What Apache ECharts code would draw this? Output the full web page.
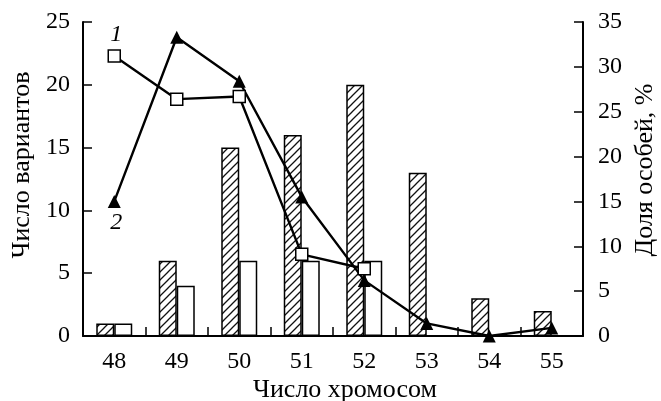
<!DOCTYPE html>
<html>
<head>
<meta charset="utf-8">
<script src="https://cdn.jsdelivr.net/npm/echarts@6/dist/echarts.min.js"></script>
<style>html,body{margin:0;padding:0;background:#fff}#c{width:661px;height:401px}</style>
</head>
<body>
<div id="c"></div>
<script>
const categories = ['48','49','50','51','52','53','54','55'];
const hatchedBars = [1, 6, 15, 16, 20, 13, 3, 2];
const whiteBars = [1, 4, 6, 6, 6, '-', '-', '-'];
const line1 = [31.2, 26.4, 26.7, 9.1, 7.5, '-', '-', '-'];
const line2 = [15, 33.3, 28.4, 15.5, 6.2, 1.4, 0, 0.9];
const leftTicks = [0, 25, 5];
const rightTicks = [0, 35, 5];

const FONT = 'Liberation Serif';

function hatch() {
  const s = 8;
  const c = document.createElement('canvas');
  c.width = s; c.height = s;
  const g = c.getContext('2d');
  g.fillStyle = '#fff'; g.fillRect(0, 0, s, s);
  g.strokeStyle = '#111'; g.lineWidth = 1.3;
  g.beginPath();
  g.moveTo(-1, s + 1); g.lineTo(s + 1, -1);
  g.moveTo(-1, 1); g.lineTo(1, -1);
  g.moveTo(s - 1, s + 1); g.lineTo(s + 1, s - 1);
  g.stroke();
  return c;
}

const chart = echarts.init(document.getElementById('c'), null, {renderer: 'canvas'});
const axisLine = {show: true, lineStyle: {color: '#000', width: 2}};
const tickStyle = {color: '#000', width: 1.5};
chart.setOption({
  animation: false,
  backgroundColor: '#fff',
  grid: {left: 83, right: 78, top: 22, bottom: 65, containLabel: false, outerBoundsMode: 'none'},
  xAxis: {
    type: 'category', data: categories,
    name: 'Число хромосом', nameLocation: 'middle', nameGap: 41, nameMoveOverlap: false,
    nameTextStyle: {fontFamily: FONT, fontSize: 26, color: '#000', padding: [0, 0, 0, 24]},
    axisLine: axisLine,
    axisTick: {show: true, inside: true, length: 9, lineStyle: tickStyle},
    axisLabel: {fontFamily: FONT, fontSize: 24, color: '#000', margin: 14},
    splitLine: {show: false}
  },
  yAxis: [{
    type: 'value', min: leftTicks[0], max: leftTicks[1], interval: leftTicks[2],
    name: 'Число вариантов', nameLocation: 'middle', nameGap: 48, nameRotate: 90, nameMoveOverlap: false,
    nameTextStyle: {fontFamily: FONT, fontSize: 26, color: '#000', padding: [0, 0, 0, 28]},
    axisLine: axisLine,
    axisTick: {show: true, inside: true, length: 9, lineStyle: tickStyle},
    axisLabel: {fontFamily: FONT, fontSize: 24, color: '#000', margin: 13},
    splitLine: {show: false}
  }, {
    type: 'value', position: 'right', min: rightTicks[0], max: rightTicks[1], interval: rightTicks[2],
    name: 'Доля особей, %', nameLocation: 'middle', nameGap: 49, nameRotate: 90, nameMoveOverlap: false,
    nameTextStyle: {fontFamily: FONT, fontSize: 26, color: '#000', padding: [0, 0, 0, 18]},
    axisLine: axisLine,
    axisTick: {show: true, inside: true, length: 9, lineStyle: tickStyle},
    axisLabel: {fontFamily: FONT, fontSize: 24, color: '#000', margin: 15},
    splitLine: {show: false}
  }],
  series: [{
    type: 'bar', yAxisIndex: 0, data: hatchedBars, barWidth: 18, barGap: '0%',
    itemStyle: {color: {image: hatch(), repeat: 'repeat'}, borderColor: '#000', borderWidth: 1.5},
    z: 2
  }, {
    type: 'bar', yAxisIndex: 0, data: whiteBars, barWidth: 18, barGap: '0%',
    itemStyle: {color: '#fff', borderColor: '#000', borderWidth: 1.5},
    z: 2
  }, {
    type: 'line', yAxisIndex: 1,
    data: line2.map((v, i) => i === 0 ? {value: v, label: {show: true, position: 'bottom', distance: 3, formatter: '2', fontFamily: FONT, fontStyle: 'italic', fontSize: 24, color: '#000', offset: [2, 0]}} : v),
    symbol: 'triangle', symbolSize: 13,
    lineStyle: {color: '#000', width: 2.4},
    itemStyle: {color: '#000', borderColor: '#000', borderWidth: 0},
    z: 4
  }, {
    type: 'line', yAxisIndex: 1,
    data: line1.map((v, i) => i === 0 ? {value: v, label: {show: true, position: 'top', distance: 4, formatter: '1', fontFamily: FONT, fontStyle: 'italic', fontSize: 24, color: '#000', offset: [2, 1]}} : v),
    symbol: 'rect', symbolSize: 12,
    lineStyle: {color: '#000', width: 2.4},
    itemStyle: {color: '#fff', borderColor: '#000', borderWidth: 1.5},
    z: 5
  }]
});
</script>
</body>
</html>
